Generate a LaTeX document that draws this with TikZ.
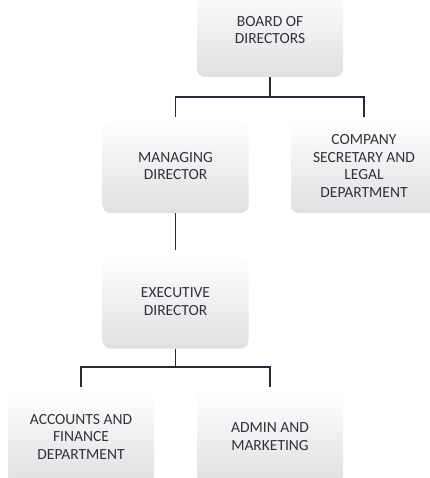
\documentclass[tikz,border=0pt]{standalone}
\usepackage{fontspec}
\setmainfont{Carlito}
\definecolor{txtc}{HTML}{32323E}
\definecolor{linec}{HTML}{2A2A34}
\definecolor{boxbot}{HTML}{E0E0E2}
\tikzset{
  orgbox/.style={rounded corners=8pt, minimum width=146pt, minimum height=94pt,
    top color=white, middle color=white, bottom color=boxbot,
    inner sep=0pt, align=center, text=txtc,
    font=\fontsize{15.5}{17.5}\selectfont},
  conn/.style={draw=linec, line width=1.3pt}
}
\begin{document}
\begin{tikzpicture}[x=1pt,y=-1pt]
\useasboundingbox (0,0) rectangle (429,478);
\node[orgbox] (board) at (270,30) {BOARD OF\\DIRECTORS};
\node[orgbox] (md) at (175.5,166) {MANAGING\\DIRECTOR};
\node[orgbox] (comp) at (364,166) {COMPANY\\SECRETARY AND\\LEGAL\\DEPARTMENT};
\node[orgbox] (exec) at (175.5,301.5) {EXECUTIVE\\DIRECTOR};
\node[orgbox] (acc) at (81,436.5) {ACCOUNTS AND\\FINANCE\\DEPARTMENT};
\node[orgbox] (admin) at (270,436.5) {ADMIN AND\\MARKETING};
\coordinate (j1) at (270,97);
\coordinate (j2) at (175.5,367);
\draw[conn] (board.south) -- (j1);
\draw[conn, shorten >=2pt] (j1) -| (md.north);
\draw[conn, shorten >=2pt] (j1) -| (comp.north);
\draw[conn, shorten >=4.5pt] (md.south) -- (exec.north);
\draw[conn] (exec.south) -- (j2);
\draw[conn, shorten >=2.5pt] (j2) -| (acc.north);
\draw[conn, shorten >=2.5pt] (j2) -| (admin.north);
\end{tikzpicture}
\end{document}
